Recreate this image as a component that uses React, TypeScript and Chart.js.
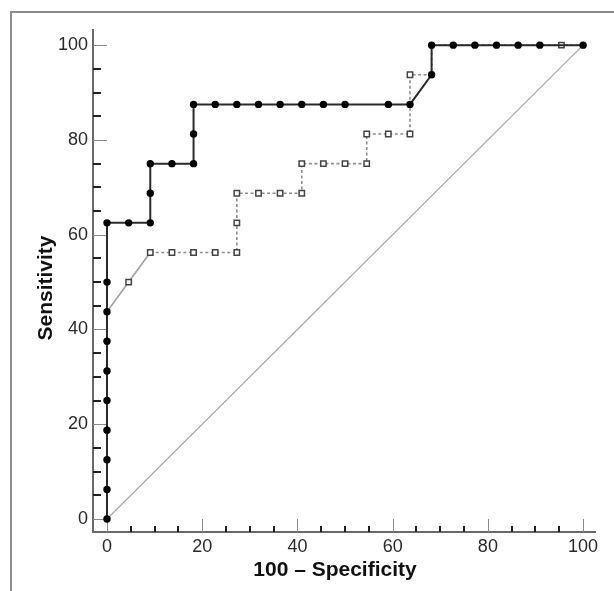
import React, { useEffect, useRef } from "react";
import { Chart, registerables } from "chart.js";

Chart.register(...registerables);

// ROC curve A (filled circles, solid line): 100 - Specificity (x) and Sensitivity (y)
const curveAX = [0, 0, 0, 0, 0, 0, 0, 0, 0, 0, 4.55, 9.09, 9.09, 9.09, 13.64, 18.18, 18.18, 18.18, 22.73, 27.27, 31.82, 36.36, 40.91, 45.45, 50, 59.09, 63.64, 68.18, 68.18, 72.73, 77.27, 81.82, 86.36, 90.91, 100];
const curveAY = [0, 6.25, 12.5, 18.75, 25, 31.25, 37.5, 43.75, 50, 62.5, 62.5, 62.5, 68.75, 75, 75, 75, 81.25, 87.5, 87.5, 87.5, 87.5, 87.5, 87.5, 87.5, 87.5, 87.5, 87.5, 93.75, 100, 100, 100, 100, 100, 100, 100];

// ROC curve B (open squares, dashed line)
const curveBX = [0, 0, 0, 0, 0, 0, 0, 0, 4.55, 9.09, 13.64, 18.18, 22.73, 27.27, 27.27, 27.27, 31.82, 36.36, 40.91, 40.91, 45.45, 50, 54.55, 54.55, 59.09, 63.64, 63.64, 63.64, 68.18, 68.18, 72.73, 77.27, 81.82, 86.36, 90.91, 95.45, 100];
const curveBY = [0, 6.25, 12.5, 18.75, 25, 31.25, 37.5, 43.75, 50, 56.25, 56.25, 56.25, 56.25, 56.25, 62.5, 68.75, 68.75, 68.75, 68.75, 75, 75, 75, 75, 81.25, 81.25, 81.25, 87.5, 93.75, 93.75, 100, 100, 100, 100, 100, 100, 100, 100];

// Chance line
const chanceX = [0, 100];
const chanceY = [0, 100];

// Axis ticks and titles
const labelTicks = [0, 20, 40, 60, 80, 100];
const minorTicks = [5, 10, 15, 25, 30, 35, 45, 50, 55, 65, 70, 75, 85, 90, 95];
const xTitle = "100 – Specificity";
const yTitle = "Sensitivity";

const FONT = "'Liberation Sans', Arial, Helvetica, sans-serif";

const toPoints = (xs: number[], ys: number[]) => xs.map((x, i) => ({ x, y: ys[i] }));

const innerTicks = {
  id: "innerTicks",
  beforeDatasetsDraw(chart: any) {
    const { ctx, chartArea, scales } = chart;
    const xs = scales.x;
    const ys = scales.y;
    ctx.save();
    ctx.strokeStyle = "#8a8a8a";
    ctx.lineWidth = 1;
    for (const v of labelTicks) {
      const px = Math.round(xs.getPixelForValue(v)) + 0.5;
      ctx.beginPath();
      ctx.moveTo(px, chartArea.bottom);
      ctx.lineTo(px, chartArea.bottom - 13);
      ctx.stroke();
      const py = Math.round(ys.getPixelForValue(v)) + 0.5;
      ctx.beginPath();
      ctx.moveTo(chartArea.left, py);
      ctx.lineTo(chartArea.left + 14, py);
      ctx.stroke();
    }
    ctx.strokeStyle = "#222";
    ctx.lineWidth = 2;
    for (const v of minorTicks) {
      const px = Math.round(xs.getPixelForValue(v));
      ctx.beginPath();
      ctx.moveTo(px, chartArea.bottom);
      ctx.lineTo(px, chartArea.bottom - 6);
      ctx.stroke();
      const py = Math.round(ys.getPixelForValue(v));
      ctx.beginPath();
      ctx.moveTo(chartArea.left, py);
      ctx.lineTo(chartArea.left + 8, py);
      ctx.stroke();
    }
    ctx.restore();
  },
  afterDraw(chart: any) {
    const { ctx, chartArea } = chart;
    ctx.save();
    ctx.fillStyle = "#111";
    ctx.font = `bold 21px ${FONT}`;
    ctx.textAlign = "center";
    ctx.textBaseline = "alphabetic";
    ctx.fillText(xTitle, chartArea.left + 242, chartArea.bottom + 44);
    ctx.translate(chartArea.left - 41, chartArea.top + 258);
    ctx.rotate(-Math.PI / 2);
    ctx.fillText(yTitle, 0, 0);
    ctx.restore();
  },
};

export default function App() {
  const canvasRef = useRef<HTMLCanvasElement | null>(null);

  useEffect(() => {
    const canvas = canvasRef.current;
    if (!canvas) return;
    const aPts = toPoints(curveAX, curveAY);
    const bPts = toPoints(curveBX, curveBY);
    const hiddenUnderA = (p: { x: number; y: number }) =>
      aPts.some((a) => Math.abs(a.x - p.x) < 0.01 && Math.abs(a.y - p.y) < 0.01);

    const isDiagonal = (c: any) => c.p0.parsed.x !== c.p1.parsed.x && c.p0.parsed.y !== c.p1.parsed.y;

    const chart = new Chart(canvas, {
      type: "scatter",
      data: {
        datasets: [
          {
            label: "A",
            data: aPts,
            showLine: true,
            borderColor: "#2a2a2a",
            borderWidth: 2,
            pointStyle: "circle",
            pointRadius: 3.7,
            pointBackgroundColor: "#000",
            pointBorderColor: "#000",
            pointBorderWidth: 0,
            order: 1,
            clip: false,
          } as any,
          {
            label: "B",
            data: bPts,
            showLine: true,
            borderColor: "#8c8c8c",
            borderWidth: 1.6,
            segment: {
              borderDash: (c: any) => (isDiagonal(c) ? [] : [3, 2.5]),
              borderColor: (c: any) => (isDiagonal(c) ? "#a0a0a0" : "#8c8c8c"),
            },
            pointStyle: "rect",
            pointRadius: (c: any) => (c.raw && hiddenUnderA(c.raw) ? 0 : 3.8),
            pointBackgroundColor: "#fff",
            pointBorderColor: "#444",
            pointBorderWidth: 1.5,
            order: 2,
            clip: false,
          } as any,
          {
            label: "chance",
            data: toPoints(chanceX, chanceY),
            showLine: true,
            borderColor: "#a8a8a8",
            borderWidth: 1.2,
            pointRadius: 0,
            order: 3,
          } as any,
        ],
      },
      options: {
        animation: false,
        responsive: false,
        events: [],
        layout: { padding: { left: 0, top: 30, right: 19, bottom: 0 } },
        plugins: { legend: { display: false }, tooltip: { enabled: false } },
        scales: {
          x: {
            type: "linear",
            min: -2.94,
            max: 102.5,
            grid: { display: false, drawTicks: false },
            border: { display: true, color: "#6a6a6a", width: 2 },
            afterBuildTicks: (s: any) => {
              s.ticks = labelTicks.map((v) => ({ value: v }));
            },
            afterFit: (s: any) => {
              s.height = 59;
            },
            ticks: {
              color: "#2a2a2a",
              padding: 4,
              maxRotation: 0,
              autoSkip: false,
              font: { family: FONT, size: 18 },
            },
            title: { display: false },
          },
          y: {
            type: "linear",
            min: -2.74,
            max: 103.2,
            grid: { display: false, drawTicks: false },
            border: { display: true, color: "#6a6a6a", width: 2 },
            afterBuildTicks: (s: any) => {
              s.ticks = labelTicks.map((v) => ({ value: v }));
            },
            afterFit: (s: any) => {
              s.width = 93;
            },
            ticks: {
              color: "#2a2a2a",
              padding: 5,
              autoSkip: false,
              font: { family: FONT, size: 18 },
            },
            title: { display: false },
          },
        },
      },
      plugins: [innerTicks],
    });
    return () => chart.destroy();
  }, []);

  return (
    <div style={{ position: "fixed", left: 0, top: 0, width: 614, height: 591, background: "#fff" }}>
      <div
        style={{
          position: "absolute",
          left: 10,
          top: 11,
          right: 0,
          bottom: 0,
          borderTop: "2px solid #8c8c8c",
          borderLeft: "2px solid #8c8c8c",
        }}
      />
      <canvas
        ref={canvasRef}
        width={614}
        height={591}
        style={{ position: "absolute", left: 0, top: 0, width: 614, height: 591 }}
      />
    </div>
  );
}
